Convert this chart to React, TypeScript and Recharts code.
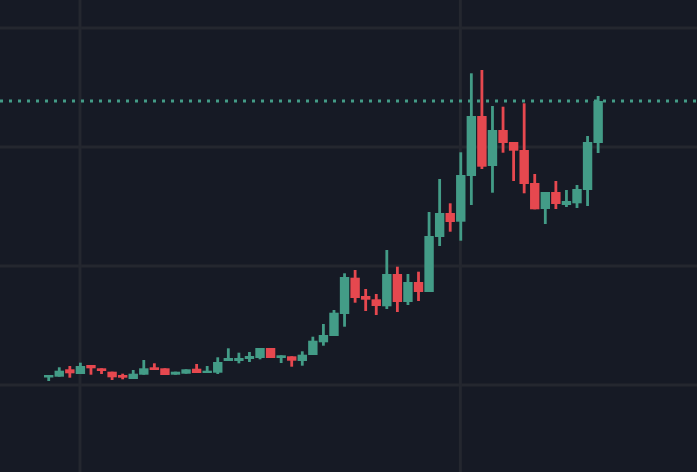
import React from 'react';
import { ComposedChart, Bar, XAxis, YAxis, CartesianGrid, ReferenceLine } from 'recharts';

const BG = '#161a25';
const UP = '#439c87';
const DOWN = '#e6484f';
const GRID = '#24272f';

const opens = [94.5, 95.3, 102.7, 98, 107, 103.7, 100.3, 97, 93, 97.3, 104.7, 103.7, 97.3, 98.3, 103.3, 99, 99.3, 111, 111, 113, 114, 124, 114, 115.7, 111, 117, 129.7, 136, 158, 194.3, 176, 172.7, 165.7, 198, 170, 190, 180, 235, 259, 250.3, 296, 356, 306, 342, 330, 322, 289, 263, 280, 267, 268.7, 282, 329];
const highs = [97, 104.7, 106, 109.3, 107, 103.7, 100.3, 98.3, 102, 112, 108.7, 103.7, 100.3, 102.7, 108, 106, 114.7, 123.7, 119.3, 120, 124, 124, 116.7, 115.7, 120.7, 135.3, 148, 162, 198.7, 202, 183, 178, 222, 205.3, 198, 200.3, 260, 293, 268.7, 319.7, 398.7, 402, 366, 365.3, 330, 368.7, 298, 280, 291, 282, 287, 336, 376];
const lows = [91, 95.3, 94.3, 98, 97.3, 98, 92, 92.7, 93, 97.3, 102, 97, 97.3, 98.3, 99, 99, 98, 111, 108.7, 110, 112.7, 114, 109, 105.3, 106.3, 117, 126.3, 136, 145.3, 169.3, 161, 157, 163, 160, 167, 171, 180, 226, 240.3, 231.3, 267, 303, 279.3, 319.3, 291, 278.7, 262.7, 248, 263, 265, 264, 266, 319];
const closes = [97, 101.3, 98.7, 106, 103.7, 101, 94.7, 94.3, 98.3, 103.7, 102, 97, 100.3, 102.7, 99, 101.3, 110, 114, 114, 116, 124, 114, 116.7, 111.3, 117.3, 131.3, 137, 159.3, 195, 174, 172.3, 166, 198, 170, 190, 180, 236, 259, 250, 297, 356, 305.3, 342, 329, 321.3, 288, 262.7, 280, 268, 271, 283, 330, 371];

const priceTicks = [87, 206, 325, 444];
const lastPrice = 371;
const markedCandles = [3, 39];

const candles = closes.map((close, i) => ({
  i,
  open: opens[i],
  high: highs[i],
  low: lows[i],
  close,
}));

const Candle = (props: any) => {
  const { x, y, width, height, payload } = props;
  const { open, high, low, close } = payload;
  const color = close >= open ? UP : DOWN;
  const perUnit = height / (high - low);
  const bodyTop = y + (high - Math.max(open, close)) * perUnit;
  const bodyHeight = Math.max(Math.abs(open - close) * perUnit, 1);
  return (
    <g>
      <rect x={x + width / 2 - 1.4} y={y} width={2.8} height={height} fill={color} />
      <rect x={x} y={bodyTop} width={width} height={bodyHeight} fill={color} />
    </g>
  );
};

export default function App() {
  return (
    <div style={{ position: 'fixed', left: 0, top: 0, width: 697, height: 472, background: BG }}>
      <ComposedChart width={697} height={472} data={candles} margin={{ top: 0, right: 0, bottom: 0, left: 0 }}>
        <CartesianGrid vertical={false} stroke={GRID} strokeWidth={3} horizontalValues={priceTicks} />
        <XAxis dataKey="i" hide padding={{ left: 43, right: 94 }} />
        <YAxis hide domain={[0, 472]} ticks={priceTicks} />
        {markedCandles.map((c) => (
          <ReferenceLine key={c} x={c} stroke={GRID} strokeWidth={3} zIndex={0} />
        ))}
        <ReferenceLine y={lastPrice} stroke={UP} strokeWidth={3} strokeDasharray="3 6" zIndex={0} />
        <Bar dataKey={(d: any) => [d.low, d.high]} barSize={9.4} shape={<Candle />} isAnimationActive={false} />
      </ComposedChart>
    </div>
  );
}
